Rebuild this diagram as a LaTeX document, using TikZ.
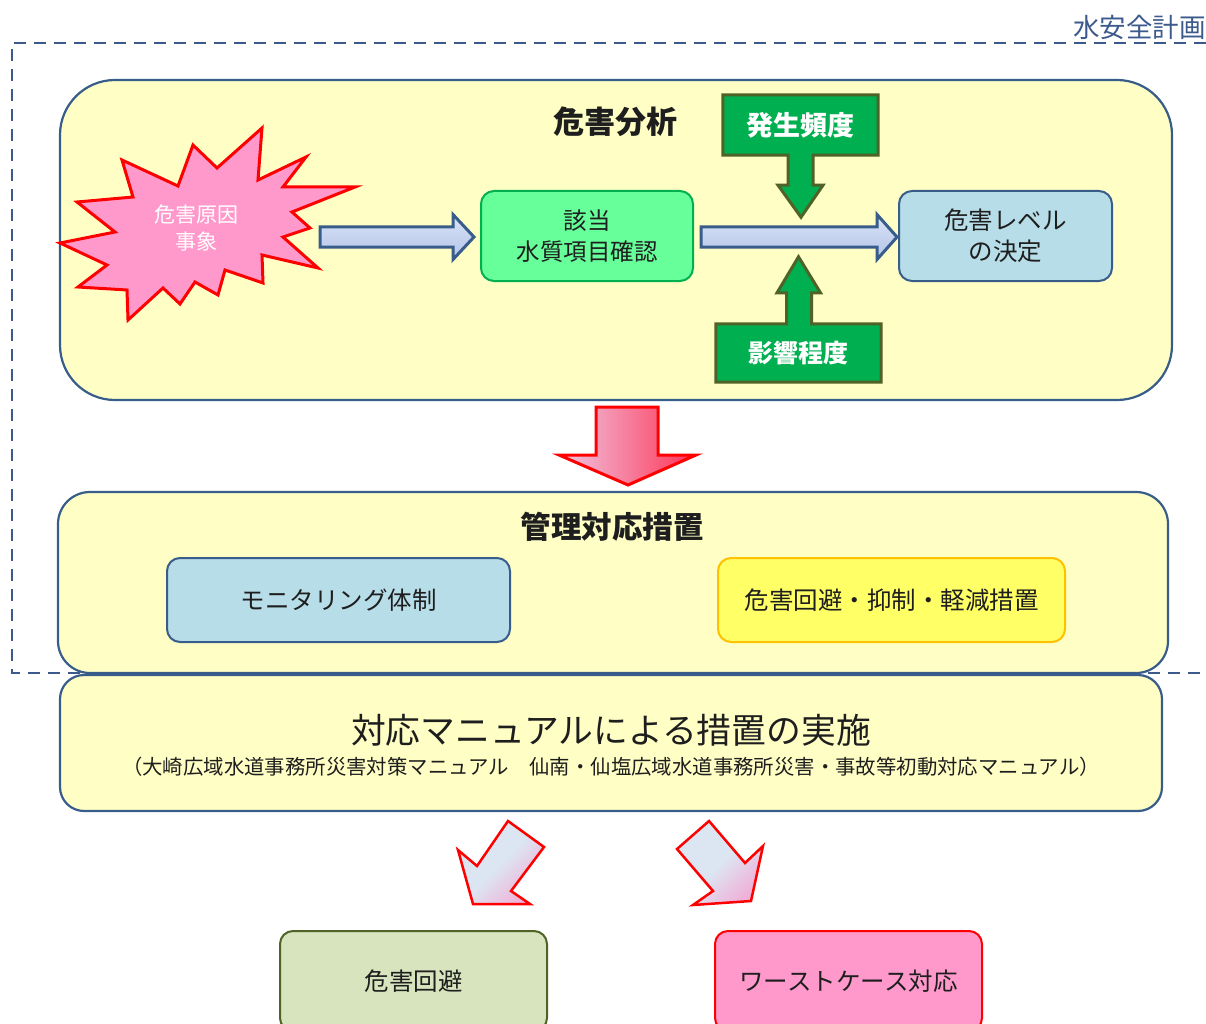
\documentclass[tikz,border=0pt]{standalone}
\usepackage{fontspec}
\newfontfamily\jp{Noto Sans CJK JP}
\usetikzlibrary{calc}
\definecolor{bordblue}{RGB}{56,93,138}
\definecolor{dashblue}{RGB}{60,90,140}
\definecolor{paleyel}{RGB}{255,255,197}
\definecolor{mint}{RGB}{102,255,153}
\definecolor{mintb}{RGB}{0,176,80}
\definecolor{lblue}{RGB}{183,221,232}
\definecolor{ggreen}{RGB}{0,176,80}
\definecolor{olive}{RGB}{79,98,40}
\definecolor{pinkf}{RGB}{255,153,204}
\definecolor{yelf}{RGB}{255,255,102}
\definecolor{yelb}{RGB}{255,192,0}
\definecolor{sage}{RGB}{215,228,189}
\definecolor{arrtop}{RGB}{218,227,246}
\definecolor{arrbot}{RGB}{178,196,232}
\definecolor{pl}{RGB}{238,200,228}
\definecolor{pr}{RGB}{255,51,85}
\definecolor{dgl}{RGB}{220,230,242}
\definecolor{dgp}{RGB}{240,176,216}
\definecolor{txt}{RGB}{30,30,30}
\begin{document}
\begin{tikzpicture}[x=1pt,y=-1pt,
  every node/.style={font=\jp, text=txt, inner sep=0pt},
  panel/.style={draw=bordblue, line width=2.2pt, fill=paleyel},
  smallbox/.style={line width=2pt, rounded corners=13pt},
  blockarr/.style={draw=bordblue, line width=3pt, line join=miter, top color=arrtop, bottom color=arrbot},
  callout/.style={draw=olive, fill=ggreen, line width=3pt, line join=miter},
  diagarr/.style={draw=red, line width=2.5pt, line join=miter, top color=dgl, bottom color=dgp, middle color=dgl, shading angle=45}
]
\useasboundingbox (0,0) rectangle (1206,1024);

% dashed frame
\draw[dashblue, line width=2pt, dash pattern=on 12pt off 8pt] (1206,43) -- (12,43) -- (12,673) -- (1206,673);
\node[text=dashblue, font=\jp\fontsize{26.5}{28}\selectfont, anchor=south east] (wsp) at (1206,40) {水安全計画};

% panel 1
\node[panel, rounded corners=55pt, minimum width=1112pt, minimum height=320pt] (p1) at (616,240) {};
\node[font=\jp\bfseries\fontsize{31}{34}\selectfont] (t1) at (615,122) {危害分析};

% starburst
\draw[red, line width=3pt, fill=pinkf, line join=miter]
 (60,243) -- (115,232) -- (77,202) -- (133,197) -- (122,160) -- (178,186) -- (193,145) -- (217,168)
 -- (262,128) -- (258,180) -- (306,157) -- (283,187) -- (355,187) -- (292,212) -- (310,228) -- (283,237)
 -- (318,268) -- (262,255) -- (263,283) -- (225,270) -- (218,295) -- (195,282) -- (180,304) -- (163,288)
 -- (128,320) -- (127,290) -- (78,287) -- (107,265) -- cycle;
\node[text=white, align=center, font=\jp\fontsize{21}{27}\selectfont] (burst) at (196,228) {危害原因\\事象};

% boxes in panel 1
\node[smallbox, draw=mintb, fill=mint, minimum width=212pt, minimum height=90pt, align=center,
  font=\jp\fontsize{23.5}{31}\selectfont] (kt) at (587,236) {該当\\水質項目確認};
\node[smallbox, draw=bordblue, fill=lblue, minimum width=213pt, minimum height=90pt, align=center,
  font=\jp\fontsize{24.5}{31}\selectfont] (lev) at (1005.5,236) {危害レベル\\の決定};

% arrow 1
\coordinate (a1s) at (320,237);
\coordinate (a1e) at ($(kt.west)+(-6,1)$);
\draw[blockarr] ($(a1s)+(0,-10)$) -- ($(a1e)+(-21,-10)$) -- ($(a1e)+(-21,-22.5)$) -- (a1e)
  -- ($(a1e)+(-21,22.5)$) -- ($(a1e)+(-21,10)$) -- ($(a1s)+(0,10)$) -- cycle;
% arrow 2
\coordinate (a2s) at (701,237);
\coordinate (a2e) at ($(lev.west)+(-1,1)$);
\draw[blockarr] ($(a2s)+(0,-10)$) -- ($(a2e)+(-20,-10)$) -- ($(a2e)+(-20,-22.5)$) -- (a2e)
  -- ($(a2e)+(-20,22.5)$) -- ($(a2e)+(-20,10)$) -- ($(a2s)+(0,10)$) -- cycle;

% callouts
\node[fill=ggreen, minimum width=155pt, minimum height=60pt] (hindo) at (800.5,125) {};
\draw[callout] (hindo.north west) -- (hindo.north east) -- (hindo.south east)
  -- ($(hindo.south)+(12.5,0)$) -- ($(hindo.south)+(12.5,30)$) -- ($(hindo.south)+(22.5,30)$)
  -- ($(hindo.south)+(0.5,62)$) -- ($(hindo.south)+(-22.5,30)$) -- ($(hindo.south)+(-12.5,30)$)
  -- ($(hindo.south)+(-12.5,0)$) -- (hindo.south west) -- cycle;
\node[text=white, font=\jp\bfseries\fontsize{27}{30}\selectfont] at (hindo) {発生頻度};

\node[fill=ggreen, minimum width=165pt, minimum height=58pt] (eikyo) at (798.5,353) {};
\draw[callout] (eikyo.south west) -- (eikyo.south east) -- (eikyo.north east)
  -- ($(eikyo.north)+(13,0)$) -- ($(eikyo.north)+(13,-31)$) -- ($(eikyo.north)+(22,-31)$)
  -- ($(eikyo.north)+(0,-67)$) -- ($(eikyo.north)+(-21.5,-31)$) -- ($(eikyo.north)+(-12,-31)$)
  -- ($(eikyo.north)+(-12,0)$) -- (eikyo.north west) -- cycle;
\node[text=white, font=\jp\bfseries\fontsize{25}{28}\selectfont] at (eikyo) {影響程度};

% big red arrow
\draw[red, line width=3pt, line join=miter, left color=pl, middle color=pinkf, right color=pr]
  (596,407) -- (658,407) -- (658,455) -- (696,455) -- (628,485) -- (559,455) -- (596,455) -- cycle;

% panel 2
\node[panel, rounded corners=32pt, minimum width=1110pt, minimum height=181pt] (p2) at (613,582.5) {};
\node[font=\jp\bfseries\fontsize{30.5}{33}\selectfont] (t2) at (612,527) {管理対応措置};
\node[smallbox, draw=bordblue, fill=lblue, minimum width=343pt, minimum height=84pt,
  font=\jp\fontsize{24.5}{28}\selectfont] (mon) at (338.5,600) {モニタリング体制};
\node[smallbox, draw=yelb, fill=yelf, minimum width=347pt, minimum height=84pt,
  font=\jp\fontsize{24.5}{28}\selectfont] (sochi) at (891.5,600) {危害回避・抑制・軽減措置};

% panel 3
\node[panel, rounded corners=24pt, minimum width=1102pt, minimum height=136pt] (p3) at (611,743) {};
\node[font=\jp\fontsize{34.8}{38}\selectfont] (t3) at (611,730) {対応マニュアルによる措置の実施};
\node[font=\jp\fontsize{20.4}{22}\selectfont] (s3) at (611,767) {（大崎広域水道事務所災害対策マニュアル　仙南・仙塩広域水道事務所災害・事故等初動対応マニュアル）};

% diagonal arrows
\draw[diagarr] (508,821) -- (544,847) -- (511,891) -- (530,904) -- (473,904) -- (458,850) -- (477,866) -- cycle;
\draw[diagarr] (709,821) -- (745,863) -- (763,846) -- (751,901) -- (693,905) -- (713,891) -- (677,849) -- cycle;

% bottom boxes
\node[smallbox, draw=olive, fill=sage, minimum width=267pt, minimum height=100pt,
  font=\jp\fontsize{24.5}{28}\selectfont] (kaihi) at (413.5,981) {危害回避};
\node[smallbox, draw=red, fill=pinkf, minimum width=267pt, minimum height=100pt,
  font=\jp\fontsize{24.5}{28}\selectfont] (worst) at (848.5,981) {ワーストケース対応};
\end{tikzpicture}
\end{document}
